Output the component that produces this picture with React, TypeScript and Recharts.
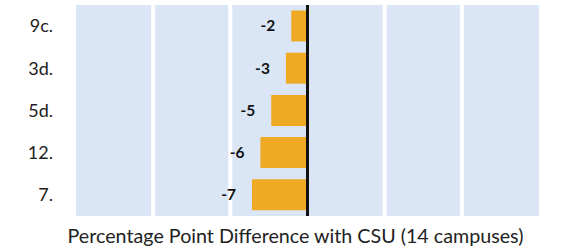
import { BarChart, Bar, XAxis, YAxis, ReferenceLine, ReferenceArea, LabelList } from "recharts";

const categories = ["9c.", "3d.", "5d.", "12.", "7."];
const differences = [-2.1, -2.8, -4.7, -6.1, -7.2];
const xTicks = [-30, -20, -10, 0, 10, 20, 30];
const innerTicks = [-20, -10, 10, 20];

const data = categories.map((name, i) => ({ name, diff: differences[i] }));

const FONT = "Lato, 'Liberation Sans', sans-serif";

const App = () => {
    return (
        <div style={{ position: "absolute", left: 0, top: 0, fontFamily: FONT }}>
            <BarChart
                width={563}
                height={248}
                data={data}
                layout="vertical"
                barCategoryGap="13%"
                margin={{ top: 5, right: 24, left: 0, bottom: 0 }}
            >
                <XAxis
                    type="number"
                    domain={[-30, 30]}
                    ticks={xTicks}
                    tick={false}
                    axisLine={false}
                    tickLine={false}
                    height={32}
                    label={{
                        value: "Percentage Point Difference with CSU (14 campuses)",
                        position: "insideBottom",
                        offset: 5,
                        dx: -12,
                        fontSize: 19.7,
                        fill: "#222",
                        fontFamily: FONT,
                    }}
                />
                <YAxis
                    type="category"
                    dataKey="name"
                    width={76}
                    axisLine={false}
                    tickLine={false}
                    tickSize={0}
                    tickMargin={23}
                    tick={{ fontSize: 18, fill: "#222", fontFamily: FONT }}
                />
                <ReferenceArea x1={-30} x2={30} fill="#dae5f6" fillOpacity={1} stroke="none" />
                {innerTicks.map((t) => (
                    <ReferenceLine key={t} x={t} stroke="#ffffff" strokeWidth={4} />
                ))}
                <Bar dataKey="diff" fill="#eeaa24" isAnimationActive={false}>
                    <LabelList
                        dataKey="diff"
                        position="right"
                        offset={16}
                        formatter={(v: any) => Math.round(Number(v))}
                        style={{ fontSize: 15.5, fontWeight: 700, fill: "#111", fontFamily: FONT }}
                    />
                </Bar>
                <ReferenceLine x={0} stroke="#111" strokeWidth={3} />
            </BarChart>
        </div>
    );
};

export default App;
